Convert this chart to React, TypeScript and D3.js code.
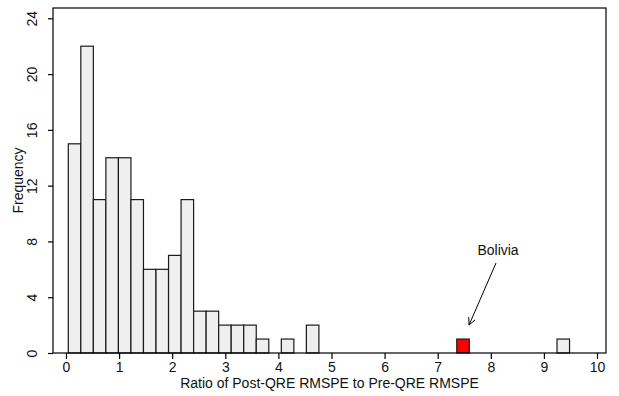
import React, { useEffect, useRef } from "react";
import * as d3 from "d3";

// histogram bins: start of first bin and bin width (in ratio units)
const binStart = 0.043;
const binWidth = 0.236;
const counts = [15, 22, 11, 14, 14, 11, 6, 6, 7, 11, 3, 3, 2, 2, 2, 1, 0, 1, 0, 2,
  0, 0, 0, 0, 0, 0, 0, 0, 0, 0, 0, 1, 0, 0, 0, 0, 0, 0, 0, 1];
const highlightBin = 31; // Bolivia
const xTicks = [0, 1, 2, 3, 4, 5, 6, 7, 8, 9, 10];
const yTicks = [0, 4, 8, 12, 16, 20, 24];
const annotation = "Bolivia";

const App = () => {
  const ref = useRef<SVGSVGElement>(null);

  useEffect(() => {
    const svg = d3.select(ref.current);
    svg.selectAll("*").remove();

    const box = { left: 53, right: 606, top: 8, bottom: 353 };
    const font = "Liberation Sans, Arial, sans-serif";
    const fs = 14;

    const x = d3.scaleLinear().domain([0, 10]).range([66, 597]);
    const y = d3.scaleLinear().domain([0, 24]).range([353, 18.3]);

    const bins = counts.map((c, i) => ({
      x0: binStart + i * binWidth,
      x1: binStart + (i + 1) * binWidth,
      count: c,
      hl: i === highlightBin,
    }));

    svg.append("g")
      .selectAll("rect")
      .data(bins.filter((d) => d.count > 0))
      .join("rect")
      .attr("x", (d) => x(d.x0))
      .attr("y", (d) => y(d.count))
      .attr("width", (d) => x(d.x1) - x(d.x0))
      .attr("height", (d) => y(0) - y(d.count))
      .attr("fill", (d) => (d.hl ? "#ff0000" : "#efefef"))
      .attr("stroke", "#1a1a1a")
      .attr("stroke-width", 1.2);

    // frame
    svg.append("rect")
      .attr("x", box.left)
      .attr("y", box.top)
      .attr("width", box.right - box.left)
      .attr("height", box.bottom - box.top)
      .attr("fill", "none")
      .attr("stroke", "#000")
      .attr("stroke-width", 1.2);

    const xAxis = svg.append("g")
      .attr("transform", `translate(0,${box.bottom})`)
      .call(d3.axisBottom(x).tickValues(xTicks).tickSize(6).tickPadding(3).tickFormat(d3.format("d")));
    xAxis.select(".domain").remove();
    xAxis.selectAll("text").attr("font-size", fs).attr("font-family", font).attr("fill", "#111");
    xAxis.selectAll("line").attr("stroke", "#000").attr("stroke-width", 1.2);

    const yAxis = svg.append("g")
      .attr("transform", `translate(${box.left},0)`)
      .call(d3.axisLeft(y).tickValues(yTicks).tickSize(5).tickFormat(d3.format("d")));
    yAxis.select(".domain").remove();
    yAxis.selectAll("line").attr("stroke", "#000").attr("stroke-width", 1.2);
    yAxis.selectAll("g.tick").each(function () {
      d3.select(this).select("text")
        .attr("font-size", fs)
        .attr("font-family", font)
        .attr("fill", "#111")
        .attr("x", 0)
        .attr("y", 0)
        .attr("dy", "0.35em")
        .attr("text-anchor", "middle")
        .attr("transform", "translate(-21,0) rotate(-90)");
    });

    svg.append("text")
      .attr("x", (box.left + box.right) / 2)
      .attr("y", 388)
      .attr("text-anchor", "middle")
      .attr("font-size", fs)
      .attr("font-family", font)
      .attr("fill", "#111")
      .text("Ratio of Post-QRE RMSPE to Pre-QRE RMSPE");

    svg.append("text")
      .attr("transform", `translate(23,${(box.top + box.bottom) / 2}) rotate(-90)`)
      .attr("text-anchor", "middle")
      .attr("font-size", fs)
      .attr("font-family", font)
      .attr("fill", "#111")
      .text("Frequency");

    // annotation
    const hb = bins[highlightBin];
    const ax = x((hb.x0 + hb.x1) / 2);
    const tx = ax + 35;
    svg.append("text")
      .attr("x", tx)
      .attr("y", 255)
      .attr("text-anchor", "middle")
      .attr("font-size", fs)
      .attr("font-family", font)
      .attr("fill", "#111")
      .text(annotation);

    const x1 = tx - 2, y1 = 263, x2 = ax + 6, y2 = y(1) - 14;
    svg.append("line")
      .attr("x1", x1).attr("y1", y1).attr("x2", x2).attr("y2", y2)
      .attr("stroke", "#000").attr("stroke-width", 1);
    const ang = Math.atan2(y2 - y1, x2 - x1);
    const hl = 8, ha = Math.PI / 7;
    svg.append("path")
      .attr("d", `M${x2 - hl * Math.cos(ang - ha)},${y2 - hl * Math.sin(ang - ha)}L${x2},${y2}L${x2 - hl * Math.cos(ang + ha)},${y2 - hl * Math.sin(ang + ha)}`)
      .attr("fill", "none").attr("stroke", "#000").attr("stroke-width", 1);
  }, []);

  return (
    <svg
      ref={ref}
      width={619}
      height={396}
      style={{ position: "absolute", left: 0, top: 0, background: "#fff" }}
    />
  );
};

export default App;
